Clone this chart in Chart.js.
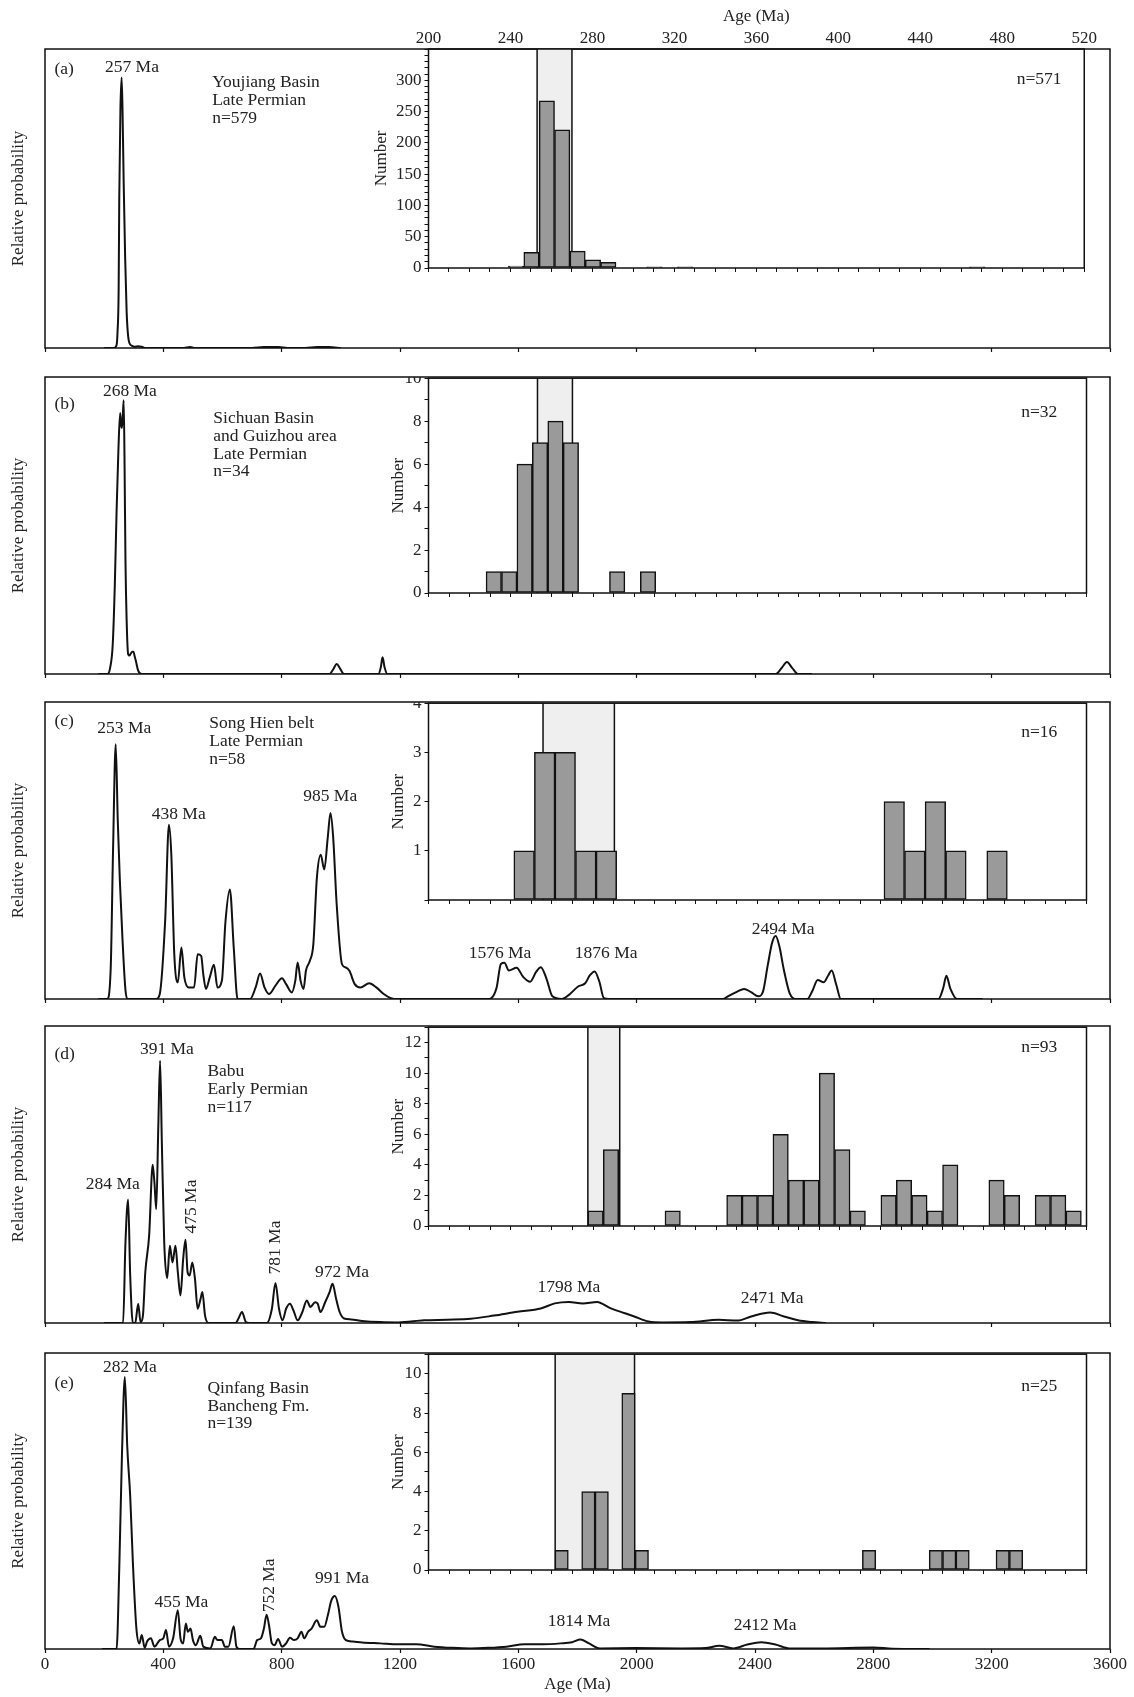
<!DOCTYPE html>
<html>
<head>
<meta charset="utf-8">
<script src="https://cdn.jsdelivr.net/npm/chart.js@4.4.0/dist/chart.umd.min.js"></script>
<style>
  body { margin: 0; background: #fff; width: 1134px; height: 1697px; position: relative; overflow: hidden; }
  .clip { position: absolute; overflow: hidden; }
</style>
</head>
<body>
<script>
// ---- tick labels ----
var mainAgeLabels = [0, 400, 800, 1200, 1600, 2000, 2400, 2800, 3200, 3600];
var insetAgeLabels = [200, 240, 280, 320, 360, 400, 440, 480, 520];
var yLabelsA = [0, 50, 100, 150, 200, 250, 300];
var yLabelsB = [0, 2, 4, 6, 8, 10];
var yLabelsC = [1, 2, 3, 4];
var yLabelsD = [0, 2, 4, 6, 8, 10, 12];
var yLabelsE = [0, 2, 4, 6, 8, 10];

// ---- probability curves: [age (Ma), relative probability] ----
var curveA = [[200,0],[233,0],[242,0.01],[245,0.05],[249,0.2],[251,0.5],[255,0.8],[259,0.905],[262,0.8],[266,0.55],[271,0.3],[276,0.12],[281,0.04],[286,0.015],[293,0.008],[303,0.004],[315,0.006],[327,0.004],[340,0],[470,0],[490,0.003],[505,0],[700,0],[740,0.003],[790,0.003],[820,0],[880,0],[920,0.003],[960,0.003],[1000,0]];

var curveB = [[180,0],[211,0],[220,0.02],[229,0.1],[236,0.3],[242,0.549],[248,0.75],[254,0.879],[257,0.84],[260,0.829],[263,0.87],[266,0.922],[269,0.7],[272,0.381],[276,0.18],[281,0.067],[286,0.062],[290,0.069],[295,0.075],[299,0.075],[303,0.06],[307,0.045],[315,0.011],[327,0],[962,0],[975,0.017],[986,0.034],[998,0.017],[1011,0],[1127,0],[1135,0.022],[1141,0.056],[1148,0.022],[1157,0],[2470,0],[2490,0.02],[2508,0.04],[2526,0.02],[2545,0],[2593,0]];

var curveC = [[180,0],[210,0],[222,0.1],[230,0.5],[239,0.858],[246,0.6],[253,0.4],[262,0.2],[272,0.03],[280,0],[376,0],[388,0.017],[406,0.26],[419,0.587],[427,0.486],[437,0.151],[449,0.056],[461,0.173],[471,0.073],[486,0.039],[504,0.039],[516,0.151],[528,0.145],[535,0.084],[544,0.034],[557,0.073],[571,0.115],[583,0.039],[598,0.062],[610,0.26],[625,0.369],[638,0.173],[651,0],[693,0],[712,0.039],[727,0.086],[742,0.039],[757,0.017],[779,0.045],[801,0.07],[815,0.05],[834,0.022],[846,0.061],[854,0.123],[864,0.061],[874,0.034],[882,0.095],[895,0.128],[907,0.184],[919,0.408],[932,0.486],[944,0.436],[956,0.546],[965,0.626],[974,0.546],[986,0.318],[1004,0.117],[1017,0.106],[1029,0.095],[1047,0.05],[1066,0.039],[1096,0.053],[1120,0.039],[1145,0.017],[1169,0.003],[1194,0],[1502,0],[1526,0.036],[1541,0.118],[1553,0.122],[1568,0.096],[1594,0.105],[1616,0.075],[1640,0.058],[1660,0.091],[1676,0.107],[1695,0.069],[1715,0.009],[1747,0],[1771,0.014],[1802,0.042],[1826,0.053],[1842,0.08],[1858,0.093],[1874,0.058],[1889,0.003],[1905,0],[2292,0],[2308,0.009],[2340,0.025],[2363,0.034],[2387,0.023],[2411,0.009],[2427,0.025],[2443,0.113],[2458,0.19],[2470,0.212],[2482,0.179],[2498,0.096],[2517,0.02],[2537,0],[2577,0],[2593,0.025],[2612,0.064],[2632,0.056],[2648,0.08],[2659,0.096],[2675,0.047],[2690,0],[3020,0],[3036,0.036],[3047,0.078],[3060,0.036],[3083,0],[3170,0]];

var curveD = [[199,0],[264,0],[272,0.271],[281,0.416],[288,0.16],[297,0],[305,0],[315,0.065],[323,0.003],[331,0.025],[339,0.171],[352,0.294],[364,0.533],[370,0.472],[376,0.383],[383,0.662],[389,0.883],[395,0.606],[403,0.271],[413,0.151],[422,0.26],[431,0.204],[441,0.26],[449,0.171],[458,0.093],[467,0.215],[475,0.28],[482,0.171],[489,0.16],[498,0.204],[507,0.148],[516,0.048],[526,0.082],[532,0.104],[541,0.025],[553,0],[644,0],[654,0.015],[666,0.037],[679,0.003],[690,0],[750,0],[767,0.048],[779,0.135],[791,0.048],[803,0.009],[815,0.048],[828,0.065],[840,0.042],[854,0.009],[870,0.037],[885,0.076],[897,0.054],[913,0.07],[922,0.065],[931,0.037],[947,0.07],[962,0.104],[972,0.132],[984,0.082],[996,0.037],[1011,0.015],[1035,0.012],[1072,0.007],[1133,0.003],[1194,0.002],[1281,0.009],[1360,0.011],[1439,0.014],[1518,0.025],[1597,0.038],[1676,0.049],[1723,0.066],[1771,0.071],[1818,0.066],[1866,0.071],[1913,0.049],[1960,0.033],[1992,0.022],[2040,0.005],[2087,0.002],[2182,0.003],[2277,0.011],[2340,0.008],[2387,0.022],[2451,0.035],[2498,0.022],[2545,0.009],[2593,0.003],[2640,0]];

var curveE = [[193,0],[242,0],[251,0.271],[260,0.651],[270,0.919],[278,0.685],[288,0.517],[297,0.293],[309,0.069],[319,0.019],[327,0.047],[337,0.004],[345,0.025],[358,0.036],[370,0.008],[388,0.03],[400,0.036],[409,0.064],[419,0.008],[433,0.036],[449,0.131],[458,0.036],[467,0.019],[476,0.086],[483,0.058],[492,0.069],[500,0.03],[510,0.013],[525,0.045],[535,0.008],[559,0.002],[574,0.041],[583,0.03],[598,0.03],[608,0.008],[620,0.008],[638,0.077],[647,0.008],[657,0],[705,0],[717,0.03],[730,0.036],[740,0.069],[749,0.116],[757,0.081],[767,0.019],[776,0.013],[788,0.034],[801,0.008],[815,0.019],[828,0.038],[842,0.03],[854,0.036],[867,0.058],[876,0.036],[889,0.058],[901,0.069],[919,0.097],[931,0.075],[944,0.075],[956,0.114],[968,0.164],[980,0.179],[992,0.142],[1004,0.058],[1017,0.03],[1041,0.025],[1072,0.022],[1133,0.019],[1194,0.016],[1255,0.016],[1316,0.008],[1377,0.004],[1438,0.002],[1499,0.004],[1560,0.008],[1621,0.016],[1682,0.016],[1743,0.019],[1782,0.023],[1810,0.032],[1837,0.02],[1876,0.002],[1995,0.003],[2153,0.002],[2232,0.003],[2279,0.011],[2327,0.002],[2374,0.015],[2421,0.023],[2469,0.015],[2516,0.002],[2627,0.002],[2801,0.005],[2864,0.001],[2990,0]];

// ---- histograms: bin centres (Ma) and counts ----
var binsA = [242.75, 250.25, 257.75, 265.25, 272.75, 280.25, 287.75, 310.25, 325.25, 467.75];
var countsA = [3, 25, 267, 221, 27, 13, 9, 2, 2, 2];
var binsB = [231.75, 239.25, 246.75, 254.25, 261.75, 269.25, 291.75, 306.75];
var countsB = [1, 1, 6, 7, 8, 7, 1, 1];
var binsC = [246.5, 256.5, 266.5, 276.5, 286.5, 426.5, 436.5, 446.5, 456.5, 476.5];
var countsC = [1, 3, 3, 1, 1, 2, 1, 2, 1, 1];
var binsD = [281.25, 288.75, 318.75, 348.75, 356.25, 363.75, 371.25, 378.75, 386.25, 393.75, 401.25, 408.75, 423.75, 431.25, 438.75, 446.25, 453.75, 476.25, 483.75, 498.75, 506.25, 513.75];
var countsD = [1, 5, 1, 2, 2, 2, 6, 3, 3, 10, 5, 1, 2, 3, 2, 1, 4, 3, 2, 2, 2, 1];
var binsE = [264.75, 277.75, 284.25, 297.25, 303.75, 414.25, 446.75, 453.25, 459.75, 479.25, 485.75];
var countsE = [1, 4, 4, 9, 1, 1, 1, 1, 1, 1, 1];

// shaded age windows in the insets
var shadeA = [253, 270];
var shadeB = [253, 270];
var shadeC = [255.7, 290.4];
var shadeD = [277.5, 293];
var shadeE = [261.6, 300.2];

// ---- text labels: [text, age, value, align, rotated] ----
var notesA = [["(a)", 32, 0.932], ["257 Ma", 294, 0.94, "center"], ["Youjiang Basin", 565, 0.887], ["Late Permian", 565, 0.829], ["n=579", 565, 0.769]];
var notesB = [["(b)", 32, 0.907], ["268 Ma", 287, 0.95, "center"], ["Sichuan Basin", 569, 0.86], ["and Guizhou area", 569, 0.80], ["Late Permian", 569, 0.741], ["n=34", 569, 0.683]];
var notesC = [["(c)", 32, 0.936], ["253 Ma", 268, 0.911, "center"], ["Song Hien belt", 555, 0.927], ["Late Permian", 555, 0.868], ["n=58", 555, 0.808],
  ["438 Ma", 452, 0.622, "center"], ["985 Ma", 964, 0.682, "center"], ["1576 Ma", 1538, 0.155, "center"], ["1876 Ma", 1897, 0.155, "center"], ["2494 Ma", 2495, 0.236, "center"]];
var notesD = [["(d)", 32, 0.905], ["391 Ma", 412, 0.922, "center"], ["Babu", 549, 0.846], ["Early Permian", 549, 0.785], ["n=117", 549, 0.727],
  ["284 Ma", 229, 0.466, "center"], ["475 Ma", 494, 0.392, "center", 1], ["781 Ma", 779, 0.254, "center", 1], ["972 Ma", 1004, 0.171, "center"], ["1798 Ma", 1771, 0.12, "center"], ["2471 Ma", 2458, 0.082, "center"]];
var notesE = [["(e)", 32, 0.897], ["282 Ma", 287, 0.95, "center"], ["Qinfang Basin", 549, 0.88], ["Bancheng Fm.", 549, 0.821], ["n=139", 549, 0.763],
  ["455 Ma", 461, 0.159, "center"], ["752 Ma", 760, 0.215, "center", 1], ["991 Ma", 1004, 0.237, "center"], ["1814 Ma", 1805, 0.094, "center"], ["2412 Ma", 2434, 0.079, "center"]];

var insetNotesA = [["n=571", 498, 302, "center"]];
var insetNotesB = [["n=32", 497, 8.4, "center"]];
var insetNotesC = [["n=16", 497, 3.4, "center"]];
var insetNotesD = [["n=93", 497, 11.65, "center"]];
var insetNotesE = [["n=25", 497, 9.37, "center"]];

// ---- layout ----
var PAGE_W = 1134;
var PANEL_TOP = [49, 377, 702, 1026, 1353];
var PANEL_BOTTOM = [348, 674, 999, 1323, 1649];
var INSET_BOTTOM = [268, 593, 900, 1226, 1570];
var PLOT_LEFT = 45, PLOT_RIGHT = 1110;
var INSET_LEFT = 428.5, INSET_RIGHT = 1086.5;
var INSET_FOOT = 20;
var FONT = "'Liberation Serif', 'Times New Roman', serif";
var INK = '#222';

Chart.defaults.font.family = FONT;
Chart.defaults.font.size = 17;
Chart.defaults.color = INK;

var panels = [
  { curve: curveA, notes: notesA, bins: binsA, counts: countsA, shade: shadeA, yMax: 350, yStep: 10, yLabels: yLabelsA, insetNotes: insetNotesA },
  { curve: curveB, notes: notesB, bins: binsB, counts: countsB, shade: shadeB, yMax: 10, yStep: 1, yLabels: yLabelsB, insetNotes: insetNotesB },
  { curve: curveC, notes: notesC, bins: binsC, counts: countsC, shade: shadeC, yMax: 4, yStep: 1, yLabels: yLabelsC, insetNotes: insetNotesC },
  { curve: curveD, notes: notesD, bins: binsD, counts: countsD, shade: shadeD, yMax: 13, yStep: 1, yLabels: yLabelsD, insetNotes: insetNotesD },
  { curve: curveE, notes: notesE, bins: binsE, counts: countsE, shade: shadeE, yMax: 11, yStep: 1, yLabels: yLabelsE, insetNotes: insetNotesE }
];

function addCanvas(parent, left, top, w, h) {
  var c = document.createElement('canvas');
  c.width = w;
  c.height = h;
  c.style.position = 'absolute';
  c.style.left = left + 'px';
  c.style.top = top + 'px';
  c.style.width = w + 'px';
  c.style.height = h + 'px';
  parent.appendChild(c);
  return c;
}

var frameBox = {
  id: 'frameBox',
  afterDraw: function (chart) {
    var a = chart.chartArea, ctx = chart.ctx;
    ctx.save();
    ctx.strokeStyle = '#111';
    ctx.lineWidth = 1.5;
    ctx.strokeRect(a.left, a.top, a.right - a.left, a.bottom - a.top);
    ctx.restore();
  }
};

function notesPlugin(notes) {
  return {
    id: 'notes',
    afterDraw: function (chart) {
      var ctx = chart.ctx, sx = chart.scales.x, sy = chart.scales.y;
      ctx.save();
      ctx.font = '17.5px ' + FONT;
      ctx.fillStyle = INK;
      ctx.textBaseline = 'middle';
      notes.forEach(function (n) {
        ctx.save();
        ctx.translate(sx.getPixelForValue(n[1]), sy.getPixelForValue(n[2]));
        if (n[4]) ctx.rotate(-Math.PI / 2);
        ctx.textAlign = n[3] || 'left';
        ctx.fillText(n[0], 0, 0);
        ctx.restore();
      });
      ctx.restore();
    }
  };
}

function shadePlugin(range) {
  return {
    id: 'shade',
    beforeDatasetsDraw: function (chart) {
      var a = chart.chartArea, sx = chart.scales.x, ctx = chart.ctx;
      var x0 = sx.getPixelForValue(range[0]), x1 = sx.getPixelForValue(range[1]);
      ctx.save();
      ctx.fillStyle = '#efefef';
      ctx.fillRect(x0, a.top, x1 - x0, a.bottom - a.top);
      ctx.strokeStyle = '#111';
      ctx.lineWidth = 1.5;
      ctx.beginPath();
      ctx.moveTo(x0, a.top); ctx.lineTo(x0, a.bottom);
      ctx.moveTo(x1, a.top); ctx.lineTo(x1, a.bottom);
      ctx.stroke();
      ctx.restore();
    }
  };
}

// ---- probability panels ----
panels.forEach(function (p, i) {
  var last = i === panels.length - 1;
  var pad = 12;
  var axisH = last ? 50 : 8;
  var h = pad + (PANEL_BOTTOM[i] - PANEL_TOP[i]) + axisH;
  var cv = addCanvas(document.body, 0, PANEL_TOP[i] - pad, PAGE_W, h);

  new Chart(cv, {
    type: 'line',
    data: {
      datasets: [{
        data: p.curve.map(function (d) { return { x: d[0], y: d[1] }; }),
        borderColor: '#111',
        borderWidth: 2,
        pointRadius: 0,
        fill: false,
        cubicInterpolationMode: 'monotone'
      }]
    },
    options: {
      responsive: false,
      animation: false,
      devicePixelRatio: 1,
      layout: { padding: { top: pad, left: 4.4, right: PAGE_W - PLOT_RIGHT, bottom: 0 } },
      plugins: { legend: { display: false }, tooltip: { enabled: false } },
      scales: {
        x: {
          type: 'linear', min: 0, max: 3600,
          afterBuildTicks: function (s) { s.ticks = mainAgeLabels.map(function (v) { return { value: v }; }); },
          afterFit: function (s) { s.height = axisH; },
          grid: { drawOnChartArea: false, tickLength: 4, color: '#111', tickWidth: 1.2 },
          border: { display: false },
          ticks: { display: last, padding: 1, color: INK, maxRotation: 0, callback: function (v) { return String(v); } },
          title: { display: last, text: 'Age (Ma)', color: INK, padding: { top: 4, bottom: 4 } }
        },
        y: {
          min: 0, max: 1,
          afterFit: function (s) { s.width = PLOT_LEFT - 4.4; },
          grid: { display: false },
          border: { display: false },
          ticks: { display: false },
          title: { display: true, text: 'Relative probability', color: INK, padding: { top: 4, bottom: 4 } }
        }
      }
    },
    plugins: [frameBox, notesPlugin(p.notes)]
  });
});

// ---- histogram insets ----
panels.forEach(function (p, i) {
  var first = i === 0;
  var left = first ? 367 : 384;
  var w = Math.round(INSET_RIGHT + 10 - left);
  var insetH = INSET_BOTTOM[i] - PANEL_TOP[i];
  var cv, padTop;
  if (first) {
    padTop = 0;
    cv = addCanvas(document.body, left, 0, w, PANEL_TOP[0] + insetH + INSET_FOOT);
  } else {
    padTop = 12;
    var box = document.createElement('div');
    box.className = 'clip';
    box.style.left = left + 'px';
    box.style.top = PANEL_TOP[i] + 'px';
    box.style.width = w + 'px';
    box.style.height = (insetH + INSET_FOOT) + 'px';
    document.body.appendChild(box);
    cv = addCanvas(box, 0, -padTop, w, padTop + insetH + INSET_FOOT);
  }

  var scales = {
    x: {
      type: 'linear', min: 200, max: 520, offset: false,
      afterFit: function (s) { s.height = 6; },
      grid: { drawOnChartArea: false, offset: false, tickLength: 4, color: '#111' },
      border: { display: false },
      ticks: { display: false, stepSize: 10, autoSkip: false }
    },
    y: {
      min: 0, max: p.yMax,
      afterFit: function (s) { s.width = INSET_LEFT - left; },
      grid: { drawOnChartArea: false, tickLength: 4, color: '#111' },
      border: { display: false },
      ticks: {
        stepSize: p.yStep, autoSkip: false, includeBounds: false, padding: 3, color: INK,
        callback: function (v) { return p.yLabels.indexOf(v) >= 0 ? String(v) : ''; }
      },
      title: { display: true, text: 'Number', color: INK, padding: { top: 4, bottom: 4 } }
    }
  };
  if (first) {
    scales.x2 = {
      type: 'linear', position: 'top', min: 200, max: 520, offset: false,
      afterBuildTicks: function (s) { s.ticks = insetAgeLabels.map(function (v) { return { value: v }; }); },
      afterFit: function (s) { s.height = PANEL_TOP[0]; },
      grid: { drawOnChartArea: false, drawTicks: false },
      border: { display: false },
      ticks: { padding: 0, color: INK, maxRotation: 0 },
      title: { display: true, text: 'Age (Ma)', color: INK, padding: { top: 6, bottom: 2 } }
    };
  }

  new Chart(cv, {
    type: 'bar',
    data: {
      datasets: [{
        data: p.bins.map(function (b, k) { return { x: b, y: p.counts[k] }; }),
        backgroundColor: '#9a9a9a',
        borderColor: '#111',
        borderWidth: 1.5,
        borderSkipped: false,
        barPercentage: 1,
        categoryPercentage: 1
      }]
    },
    options: {
      responsive: false,
      animation: false,
      devicePixelRatio: 1,
      layout: { padding: { top: padTop, left: 0, right: w - (INSET_RIGHT - left), bottom: INSET_FOOT - 6 } },
      plugins: { legend: { display: false }, tooltip: { enabled: false } },
      scales: scales
    },
    plugins: [shadePlugin(p.shade), frameBox, notesPlugin(p.insetNotes)]
  });
});
</script>
</body>
</html>
